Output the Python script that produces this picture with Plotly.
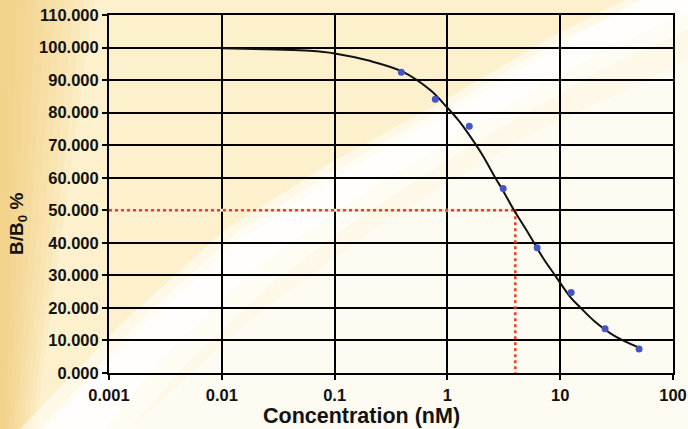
import plotly.graph_objects as go

# ---- data ----
conc = [0.390625, 0.78125, 1.5625, 3.125, 6.25, 12.5, 25, 50]
bb0 = [92.4, 84.1, 75.8, 56.7, 38.5, 24.7, 13.6, 7.4]

curve_x = [0.01, 0.03, 0.06, 0.1, 0.2, 0.4, 0.7, 1.0, 1.25, 1.5, 2.0, 2.74,
           3.0, 3.9, 5.0, 7.0, 9.0, 12.2, 15.0, 20.0, 30.0, 50.0]
curve_y = [99.8, 99.4, 99.0, 98.2, 96.0, 92.6, 87.0, 81.5, 77.7, 74.0, 67.5, 59.2,
           57.0, 50.0, 44.0, 35.5, 30.0, 23.5, 20.2, 16.0, 11.5, 7.8]

ic50 = 4.0
half = 50.0
x_start = 0.001
y_floor = 0.0

x_tickvals = [0.001, 0.01, 0.1, 1, 10, 100]
x_ticktext = ["0.001", "0.01", "0.1", "1", "10", "100"]
y_tickvals = [0, 10, 20, 30, 40, 50, 60, 70, 80, 90, 100, 110]
y_ticktext = ["%.3f" % v for v in y_tickvals]

# ---- layout geometry ----
W, H = 688, 429
L, R, T, B = 109, 15, 15, 56
PX0, PX1, PY0, PY1 = L, W - R, T, H - B


def px(x):
    return (x - PX0) / (PX1 - PX0)


def py(y):
    return (PY1 - y) / (PY1 - PY0)


def path(points, close=True):
    s = "M " + " L ".join("%.4f,%.4f" % (px(a), py(b)) for a, b in points)
    return s + (" Z" if close else "")


FONT = "Arial, Liberation Sans, Helvetica, sans-serif"
INK = "#121212"

fig = go.Figure()

# red guide lines (mask under horizontal to hide gridline)
fig.add_trace(go.Scatter(x=[x_start, ic50], y=[half, half], mode="lines",
                         line=dict(color="#F8E2D2", width=3), hoverinfo="skip",
                         showlegend=False))
fig.add_trace(go.Scatter(x=[x_start, ic50], y=[half, half], mode="lines",
                         line=dict(color="#E8411E", width=2.5, dash="dot"),
                         showlegend=False))
fig.add_trace(go.Scatter(x=[ic50, ic50], y=[half, y_floor], mode="lines",
                         line=dict(color="#E8411E", width=2.5, dash="dot"),
                         showlegend=False))

# fitted curve
fig.add_trace(go.Scatter(x=curve_x, y=curve_y, mode="lines",
                         line=dict(color="#111111", width=2, shape="spline"),
                         showlegend=False))
# data points
fig.add_trace(go.Scatter(x=conc, y=bb0, mode="markers",
                         marker=dict(color="#4656C0", size=7),
                         showlegend=False))

# ---- background shapes ----
shapes = []
# cream region left/above the swoosh
shapes.append(dict(type="path", xref="paper", yref="paper", layer="below",
                   path=path([(0, 0), (650, 0), (560, 40), (450, 105), (344, 165),
                              (240, 230), (140, 320), (40, 429), (0, 429)]),
                   fillcolor="#FCF0CD", line=dict(width=0)))
# stronger yellow towards left edge
for i in range(10):
    w = 6 + i * 8
    shapes.append(dict(type="path", xref="paper", yref="paper", layer="below",
                       path=path([(0, 0), (w * 1.2, 0), (w * 0.45, 429), (0, 429)]),
                       fillcolor="#F0C55C", opacity=0.08, line=dict(width=0)))
# soft white swoosh band
shapes.append(dict(type="path", xref="paper", yref="paper", layer="below",
                   path=path([(20, 429), (120, 325), (225, 230), (335, 160), (445, 100),
                              (555, 35), (625, 0), (688, 0), (688, 30), (600, 70),
                              (480, 140), (370, 210), (270, 285), (180, 370), (130, 429)]),
                   fillcolor="#FFFFFF", opacity=0.5, line=dict(width=0)))
shapes.append(dict(type="path", xref="paper", yref="paper", layer="below",
                   path=path([(45, 429), (140, 330), (240, 240), (345, 172), (455, 110),
                              (570, 40), (640, 0), (688, 0), (688, 12), (595, 55),
                              (470, 128), (360, 195), (255, 268), (160, 360), (105, 429)]),
                   fillcolor="#FFFFFF", opacity=0.75, line=dict(width=0)))
# lower right lighter area
shapes.append(dict(type="path", xref="paper", yref="paper", layer="below",
                   path=path([(130, 429), (250, 320), (380, 225), (520, 140), (688, 60),
                              (688, 429)]),
                   fillcolor="#FFFFFF", opacity=0.45, line=dict(width=0)))

axis_common = dict(
    showline=True, linecolor="black", linewidth=2, mirror=True,
    showgrid=True, gridcolor="black", gridwidth=2,
    ticks="outside", ticklen=5, tickwidth=2, tickcolor="black",
    zeroline=False, automargin=False,
    tickfont=dict(family=FONT, size=16.5, color=INK, weight="bold"),
)

fig.update_layout(
    width=W, height=H,
    margin=dict(l=L, r=R, t=T, b=B, pad=0, autoexpand=False),
    paper_bgcolor="#FEF8E8",
    plot_bgcolor="rgba(0,0,0,0)",
    shapes=shapes,
    xaxis=dict(type="log", range=[-3, 2], tickvals=x_tickvals, ticktext=x_ticktext,
               ticklabelstandoff=1, **axis_common),
    yaxis=dict(range=[0, 110], tickvals=y_tickvals, ticktext=y_ticktext,
               **axis_common),
    annotations=[
        dict(text="Concentration (nM)", xref="paper", yref="paper",
             x=px(361), y=py(416), xanchor="center", yanchor="middle",
             showarrow=False, font=dict(family=FONT, size=21.5, color=INK, weight="bold")),
        dict(text="B/B<sub>0</sub> %", xref="paper", yref="paper",
             x=px(18), y=py(224), xanchor="center", yanchor="middle", textangle=-90,
             showarrow=False, font=dict(family=FONT, size=19, color=INK, weight="bold")),
    ],
)

fig.write_html("out.html",
               config={"displayModeBar": False},
               post_script="document.body.style.margin='0px';document.body.style.overflow='hidden';")
